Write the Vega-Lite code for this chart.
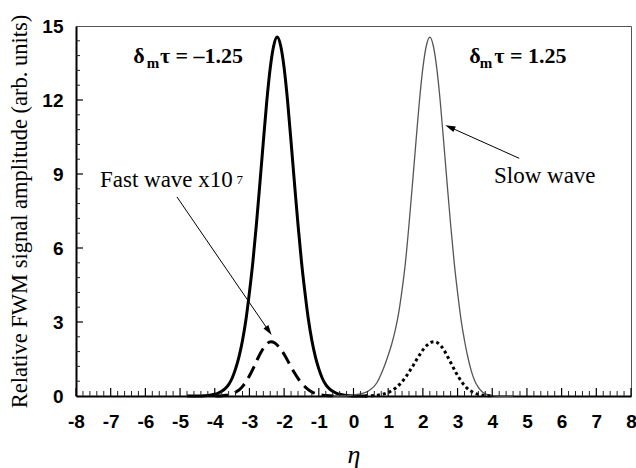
{
  "$schema": "https://vega.github.io/schema/vega-lite/v6.json",
  "width": 555,
  "height": 370,
  "autosize": {"type": "none"},
  "padding": {"left": 76, "top": 26, "right": 5, "bottom": 72},
  "background": "white",
  "config": {"view": {"stroke": "#555", "strokeWidth": 1}, "axis": {"grid": false}},
  "datasets": {
    "curves": [
      {"s":"A","x":-4.8,"y":0},{"s":"A","x":-4.4,"y":0.005},{"s":"A","x":-4.2,"y":0.02},{"s":"A","x":-4.1,"y":0.04},{"s":"A","x":-4.0,"y":0.07},{"s":"A","x":-3.9,"y":0.12},{"s":"A","x":-3.8,"y":0.19},{"s":"A","x":-3.7,"y":0.3},{"s":"A","x":-3.6,"y":0.46},{"s":"A","x":-3.5,"y":0.72},{"s":"A","x":-3.4,"y":1.1},{"s":"A","x":-3.3,"y":1.6},{"s":"A","x":-3.2,"y":2.25},{"s":"A","x":-3.1,"y":3.1},{"s":"A","x":-3.0,"y":4.2},{"s":"A","x":-2.9,"y":5.45},{"s":"A","x":-2.8,"y":6.95},{"s":"A","x":-2.7,"y":8.6},{"s":"A","x":-2.6,"y":10.3},{"s":"A","x":-2.5,"y":11.95},{"s":"A","x":-2.4,"y":13.3},{"s":"A","x":-2.3,"y":14.2},{"s":"A","x":-2.2,"y":14.55},{"s":"A","x":-2.1,"y":14.2},{"s":"A","x":-2.0,"y":13.3},{"s":"A","x":-1.9,"y":11.95},{"s":"A","x":-1.8,"y":10.3},{"s":"A","x":-1.7,"y":8.6},{"s":"A","x":-1.6,"y":6.95},{"s":"A","x":-1.5,"y":5.45},{"s":"A","x":-1.4,"y":4.2},{"s":"A","x":-1.3,"y":3.1},{"s":"A","x":-1.2,"y":2.25},{"s":"A","x":-1.1,"y":1.6},{"s":"A","x":-1.0,"y":1.1},{"s":"A","x":-0.9,"y":0.72},{"s":"A","x":-0.8,"y":0.46},{"s":"A","x":-0.7,"y":0.3},{"s":"A","x":-0.6,"y":0.19},{"s":"A","x":-0.5,"y":0.12},{"s":"A","x":-0.4,"y":0.07},{"s":"A","x":-0.3,"y":0.04},{"s":"A","x":-0.2,"y":0.02},{"s":"A","x":0,"y":0.005},{"s":"A","x":0.4,"y":0},
      {"s":"B","x":-0.6,"y":0},{"s":"B","x":-0.2,"y":0.01},{"s":"B","x":0.0,"y":0.04},{"s":"B","x":0.2,"y":0.09},{"s":"B","x":0.3,"y":0.13},{"s":"B","x":0.4,"y":0.18},{"s":"B","x":0.5,"y":0.27},{"s":"B","x":0.6,"y":0.4},{"s":"B","x":0.7,"y":0.6},{"s":"B","x":0.8,"y":0.9},{"s":"B","x":0.9,"y":1.25},{"s":"B","x":1.0,"y":1.65},{"s":"B","x":1.1,"y":2.1},{"s":"B","x":1.2,"y":2.65},{"s":"B","x":1.3,"y":3.35},{"s":"B","x":1.4,"y":4.3},{"s":"B","x":1.5,"y":5.45},{"s":"B","x":1.6,"y":6.95},{"s":"B","x":1.7,"y":8.6},{"s":"B","x":1.8,"y":10.3},{"s":"B","x":1.9,"y":11.95},{"s":"B","x":2.0,"y":13.3},{"s":"B","x":2.1,"y":14.2},{"s":"B","x":2.2,"y":14.55},{"s":"B","x":2.3,"y":14.2},{"s":"B","x":2.4,"y":13.3},{"s":"B","x":2.5,"y":11.95},{"s":"B","x":2.6,"y":10.3},{"s":"B","x":2.7,"y":8.6},{"s":"B","x":2.8,"y":6.95},{"s":"B","x":2.9,"y":5.45},{"s":"B","x":3.0,"y":4.2},{"s":"B","x":3.1,"y":3.1},{"s":"B","x":3.2,"y":2.25},{"s":"B","x":3.3,"y":1.55},{"s":"B","x":3.4,"y":1.0},{"s":"B","x":3.5,"y":0.6},{"s":"B","x":3.6,"y":0.35},{"s":"B","x":3.7,"y":0.18},{"s":"B","x":3.8,"y":0.09},{"s":"B","x":3.9,"y":0.04},{"s":"B","x":4.0,"y":0.015},{"s":"B","x":4.2,"y":0},{"s":"B","x":4.6,"y":0},
      {"s":"C","x":-3.98,"y":0.002},{"s":"C","x":-3.78,"y":0.013},{"s":"C","x":-3.68,"y":0.028},{"s":"C","x":-3.58,"y":0.053},{"s":"C","x":-3.48,"y":0.097},{"s":"C","x":-3.38,"y":0.17},{"s":"C","x":-3.28,"y":0.27},{"s":"C","x":-3.18,"y":0.42},{"s":"C","x":-3.08,"y":0.62},{"s":"C","x":-2.98,"y":0.87},{"s":"C","x":-2.88,"y":1.15},{"s":"C","x":-2.78,"y":1.46},{"s":"C","x":-2.68,"y":1.74},{"s":"C","x":-2.58,"y":1.98},{"s":"C","x":-2.48,"y":2.14},{"s":"C","x":-2.38,"y":2.2},{"s":"C","x":-2.28,"y":2.16},{"s":"C","x":-2.18,"y":2.04},{"s":"C","x":-2.08,"y":1.86},{"s":"C","x":-1.98,"y":1.64},{"s":"C","x":-1.88,"y":1.39},{"s":"C","x":-1.78,"y":1.13},{"s":"C","x":-1.68,"y":0.89},{"s":"C","x":-1.58,"y":0.67},{"s":"C","x":-1.48,"y":0.49},{"s":"C","x":-1.38,"y":0.35},{"s":"C","x":-1.28,"y":0.23},{"s":"C","x":-1.18,"y":0.15},{"s":"C","x":-1.08,"y":0.097},{"s":"C","x":-0.98,"y":0.059},{"s":"C","x":-0.88,"y":0.034},{"s":"C","x":-0.78,"y":0.019},{"s":"C","x":-0.58,"y":0.005},
      {"s":"D","x":0.33,"y":0.005},{"s":"D","x":0.53,"y":0.015},{"s":"D","x":0.73,"y":0.043},{"s":"D","x":0.83,"y":0.069},{"s":"D","x":0.93,"y":0.11},{"s":"D","x":1.03,"y":0.16},{"s":"D","x":1.13,"y":0.24},{"s":"D","x":1.23,"y":0.34},{"s":"D","x":1.33,"y":0.47},{"s":"D","x":1.43,"y":0.63},{"s":"D","x":1.53,"y":0.82},{"s":"D","x":1.63,"y":1.04},{"s":"D","x":1.73,"y":1.26},{"s":"D","x":1.83,"y":1.5},{"s":"D","x":1.93,"y":1.72},{"s":"D","x":2.03,"y":1.92},{"s":"D","x":2.13,"y":2.07},{"s":"D","x":2.23,"y":2.17},{"s":"D","x":2.33,"y":2.2},{"s":"D","x":2.43,"y":2.15},{"s":"D","x":2.53,"y":2.02},{"s":"D","x":2.63,"y":1.81},{"s":"D","x":2.73,"y":1.55},{"s":"D","x":2.83,"y":1.28},{"s":"D","x":2.93,"y":1.01},{"s":"D","x":3.03,"y":0.76},{"s":"D","x":3.13,"y":0.55},{"s":"D","x":3.23,"y":0.38},{"s":"D","x":3.33,"y":0.25},{"s":"D","x":3.43,"y":0.16},{"s":"D","x":3.53,"y":0.097},{"s":"D","x":3.63,"y":0.056},{"s":"D","x":3.73,"y":0.031},{"s":"D","x":3.83,"y":0.016},{"s":"D","x":4.03,"y":0.004}
    ],
    "xmajor": [{"v":-8},{"v":-7},{"v":-6},{"v":-5},{"v":-4},{"v":-3},{"v":-2},{"v":-1},{"v":0},{"v":1},{"v":2},{"v":3},{"v":4},{"v":5},{"v":6},{"v":7},{"v":8}],
    "xminor": [{"v":-7.8},{"v":-7.6},{"v":-7.4},{"v":-7.2},{"v":-6.8},{"v":-6.6},{"v":-6.4},{"v":-6.2},{"v":-5.8},{"v":-5.6},{"v":-5.4},{"v":-5.2},{"v":-4.8},{"v":-4.6},{"v":-4.4},{"v":-4.2},{"v":-3.8},{"v":-3.6},{"v":-3.4},{"v":-3.2},{"v":-2.8},{"v":-2.6},{"v":-2.4},{"v":-2.2},{"v":-1.8},{"v":-1.6},{"v":-1.4},{"v":-1.2},{"v":-0.8},{"v":-0.6},{"v":-0.4},{"v":-0.2},{"v":0.2},{"v":0.4},{"v":0.6},{"v":0.8},{"v":1.2},{"v":1.4},{"v":1.6},{"v":1.8},{"v":2.2},{"v":2.4},{"v":2.6},{"v":2.8},{"v":3.2},{"v":3.4},{"v":3.6},{"v":3.8},{"v":4.2},{"v":4.4},{"v":4.6},{"v":4.8},{"v":5.2},{"v":5.4},{"v":5.6},{"v":5.8},{"v":6.2},{"v":6.4},{"v":6.6},{"v":6.8},{"v":7.2},{"v":7.4},{"v":7.6},{"v":7.8}],
    "ymajor": [{"v":3},{"v":6},{"v":9},{"v":12}],
    "yminor": [{"v":0.6},{"v":1.2},{"v":1.8},{"v":2.4},{"v":3.6},{"v":4.2},{"v":4.8},{"v":5.4},{"v":6.6},{"v":7.2},{"v":7.8},{"v":8.4},{"v":9.6},{"v":10.2},{"v":10.8},{"v":11.4},{"v":12.6},{"v":13.2},{"v":13.8},{"v":14.4}],
    "arrows": [
      {"x":-5.09,"y":8.07,"x2":-2.457,"y2":2.67},
      {"x":4.779,"y":9.635,"x2":2.804,"y2":10.88}
    ],
    "big": [
      {"x":-6.35,"y":13.49,"t":"δ"},{"x":-5.58,"y":13.49,"t":"τ = –1.25"},
      {"x":3.34,"y":13.49,"t":"δ"},{"x":4.06,"y":13.49,"t":"τ = 1.25"}
    ],
    "sub": [{"x":-5.96,"y":13.3,"t":"m"},{"x":3.64,"y":13.3,"t":"m"}],
    "notes": [{"x":-7.31,"y":8.46,"t":"Fast wave x10"},{"x":4.05,"y":8.62,"t":"Slow wave"}],
    "sup": [{"x":-3.37,"y":8.6,"t":"7"}]
  },
  "resolve": {"axis": {"x": "independent", "y": "independent"}},
  "layer": [
    {
      "data": {"name": "curves"},
      "transform": [{"filter": "datum.s === 'A'"}],
      "mark": {"type": "line", "stroke": "black", "strokeWidth": 3, "interpolate": "monotone"},
      "encoding": {
        "x": {"field": "x", "type": "quantitative", "scale": {"domain": [-8, 8], "nice": false, "zero": false},
          "axis": {"orient": "bottom", "domain": false, "ticks": false, "values": [-8,-7,-6,-5,-4,-3,-2,-1,0,1,2,3,4,5,6,7,8], "labelExpr": "datum.value + ''",
            "labelFont": "Liberation Sans", "labelFontWeight": "bold", "labelFontSize": 19, "labelColor": "black",
            "labelFlush": false, "labelOverlap": false, "labelPadding": 16,
            "title": "η", "titleFont": "Liberation Serif", "titleFontStyle": "italic", "titleFontWeight": "normal", "titleFontSize": 26, "titleColor": "black", "titlePadding": 10}},
        "y": {"field": "y", "type": "quantitative", "scale": {"domain": [0, 15], "nice": false, "zero": false},
          "axis": {"orient": "left", "domain": false, "ticks": false, "values": [0,3,6,9,12,15],
            "labelFont": "Liberation Sans", "labelFontWeight": "bold", "labelFontSize": 19, "labelColor": "black",
            "labelFlush": false, "labelOverlap": false, "labelPadding": 13,
            "title": "Relative FWM signal amplitude (arb. units)", "titleFont": "Liberation Serif", "titleFontWeight": "normal", "titleFontSize": 22.5, "titleColor": "black", "titlePadding": 10}}
      }
    },
    {
      "data": {"name": "curves"},
      "transform": [{"filter": "datum.s === 'B'"}],
      "mark": {"type": "line", "stroke": "#555", "strokeWidth": 1.3, "interpolate": "monotone"},
      "encoding": {
        "x": {"field": "x", "type": "quantitative", "scale": {"domain": [-8, 8], "nice": false, "zero": false}, "axis": null},
        "y": {"field": "y", "type": "quantitative", "scale": {"domain": [0, 15], "nice": false, "zero": false}, "axis": null}
      }
    },
    {
      "data": {"name": "curves"},
      "transform": [{"filter": "datum.s === 'C'"}],
      "mark": {"type": "line", "stroke": "black", "strokeWidth": 3, "strokeDash": [13, 7], "interpolate": "monotone"},
      "encoding": {
        "x": {"field": "x", "type": "quantitative", "scale": {"domain": [-8, 8], "nice": false, "zero": false},
          "axis": {"orient": "bottom", "labels": false, "ticks": false, "domain": true, "domainColor": "black", "domainWidth": 2, "title": null}},
        "y": {"field": "y", "type": "quantitative", "scale": {"domain": [0, 15], "nice": false, "zero": false},
          "axis": {"orient": "left", "labels": false, "ticks": false, "domain": true, "domainColor": "black", "domainWidth": 2, "title": null}}
      }
    },
    {
      "data": {"name": "curves"},
      "transform": [{"filter": "datum.s === 'D'"}],
      "mark": {"type": "line", "stroke": "black", "strokeWidth": 3, "strokeDash": [3, 3], "interpolate": "monotone"},
      "encoding": {
        "x": {"field": "x", "type": "quantitative", "scale": {"domain": [-8, 8], "nice": false, "zero": false}, "axis": null},
        "y": {"field": "y", "type": "quantitative", "scale": {"domain": [0, 15], "nice": false, "zero": false}, "axis": null}
      }
    },
    {
      "data": {"name": "xmajor"},
      "mark": {"type": "tick", "orient": "vertical", "size": 8, "thickness": 1.2, "color": "black", "opacity": 1, "yOffset": -4},
      "encoding": {
        "x": {"field": "v", "type": "quantitative", "scale": {"domain": [-8, 8], "nice": false, "zero": false}, "axis": null},
        "y": {"datum": 0, "type": "quantitative", "scale": {"domain": [0, 15], "nice": false, "zero": false}, "axis": null}
      }
    },
    {
      "data": {"name": "xminor"},
      "mark": {"type": "tick", "orient": "vertical", "size": 5, "thickness": 1, "color": "#222", "opacity": 1, "yOffset": -2.5},
      "encoding": {
        "x": {"field": "v", "type": "quantitative", "scale": {"domain": [-8, 8], "nice": false, "zero": false}, "axis": null},
        "y": {"datum": 0, "type": "quantitative", "scale": {"domain": [0, 15], "nice": false, "zero": false}, "axis": null}
      }
    },
    {
      "data": {"name": "ymajor"},
      "mark": {"type": "tick", "orient": "horizontal", "size": 7, "thickness": 1.2, "color": "black", "opacity": 1, "xOffset": 3.5},
      "encoding": {
        "y": {"field": "v", "type": "quantitative", "scale": {"domain": [0, 15], "nice": false, "zero": false}, "axis": null},
        "x": {"datum": -8, "type": "quantitative", "scale": {"domain": [-8, 8], "nice": false, "zero": false}, "axis": null}
      }
    },
    {
      "data": {"name": "yminor"},
      "mark": {"type": "tick", "orient": "horizontal", "size": 4, "thickness": 1, "color": "#222", "opacity": 1, "xOffset": 2},
      "encoding": {
        "y": {"field": "v", "type": "quantitative", "scale": {"domain": [0, 15], "nice": false, "zero": false}, "axis": null},
        "x": {"datum": -8, "type": "quantitative", "scale": {"domain": [-8, 8], "nice": false, "zero": false}, "axis": null}
      }
    },
    {
      "data": {"name": "arrows"},
      "mark": {"type": "rule", "stroke": "black", "strokeWidth": 1},
      "encoding": {
        "x": {"field": "x", "type": "quantitative", "scale": {"domain": [-8, 8], "nice": false, "zero": false}, "axis": null},
        "y": {"field": "y", "type": "quantitative", "scale": {"domain": [0, 15], "nice": false, "zero": false}, "axis": null},
        "x2": {"field": "x2"},
        "y2": {"field": "y2"}
      }
    },
    {
      "data": {"values": [{"x": -2.457, "y": 2.67}]},
      "mark": {"type": "point", "shape": "M0,-1L0.5,0.7L-0.5,0.7Z", "filled": true, "fill": "black", "stroke": null, "size": 144, "opacity": 1, "angle": 145.5},
      "encoding": {
        "x": {"field": "x", "type": "quantitative", "scale": {"domain": [-8, 8], "nice": false, "zero": false}, "axis": null},
        "y": {"field": "y", "type": "quantitative", "scale": {"domain": [0, 15], "nice": false, "zero": false}, "axis": null}
      }
    },
    {
      "data": {"values": [{"x": 2.804, "y": 10.88}]},
      "mark": {"type": "point", "shape": "M0,-1L0.5,0.7L-0.5,0.7Z", "filled": true, "fill": "black", "stroke": null, "size": 144, "opacity": 1, "angle": 294.2},
      "encoding": {
        "x": {"field": "x", "type": "quantitative", "scale": {"domain": [-8, 8], "nice": false, "zero": false}, "axis": null},
        "y": {"field": "y", "type": "quantitative", "scale": {"domain": [0, 15], "nice": false, "zero": false}, "axis": null}
      }
    },
    {
      "data": {"name": "big"},
      "mark": {"type": "text", "align": "left", "baseline": "alphabetic", "font": "Liberation Serif", "fontWeight": "bold", "fontSize": 22, "fill": "black"},
      "encoding": {
        "x": {"field": "x", "type": "quantitative", "scale": {"domain": [-8, 8], "nice": false, "zero": false}, "axis": null},
        "y": {"field": "y", "type": "quantitative", "scale": {"domain": [0, 15], "nice": false, "zero": false}, "axis": null},
        "text": {"field": "t"}
      }
    },
    {
      "data": {"name": "sub"},
      "mark": {"type": "text", "align": "left", "baseline": "alphabetic", "font": "Liberation Serif", "fontWeight": "bold", "fontSize": 15, "fill": "black"},
      "encoding": {
        "x": {"field": "x", "type": "quantitative", "scale": {"domain": [-8, 8], "nice": false, "zero": false}, "axis": null},
        "y": {"field": "y", "type": "quantitative", "scale": {"domain": [0, 15], "nice": false, "zero": false}, "axis": null},
        "text": {"field": "t"}
      }
    },
    {
      "data": {"name": "notes"},
      "mark": {"type": "text", "align": "left", "baseline": "alphabetic", "font": "Liberation Serif", "fontSize": 23, "fill": "black"},
      "encoding": {
        "x": {"field": "x", "type": "quantitative", "scale": {"domain": [-8, 8], "nice": false, "zero": false}, "axis": null},
        "y": {"field": "y", "type": "quantitative", "scale": {"domain": [0, 15], "nice": false, "zero": false}, "axis": null},
        "text": {"field": "t"}
      }
    },
    {
      "data": {"name": "sup"},
      "mark": {"type": "text", "align": "left", "baseline": "alphabetic", "font": "Liberation Serif", "fontSize": 13, "fill": "black"},
      "encoding": {
        "x": {"field": "x", "type": "quantitative", "scale": {"domain": [-8, 8], "nice": false, "zero": false}, "axis": null},
        "y": {"field": "y", "type": "quantitative", "scale": {"domain": [0, 15], "nice": false, "zero": false}, "axis": null},
        "text": {"field": "t"}
      }
    }
  ]
}
